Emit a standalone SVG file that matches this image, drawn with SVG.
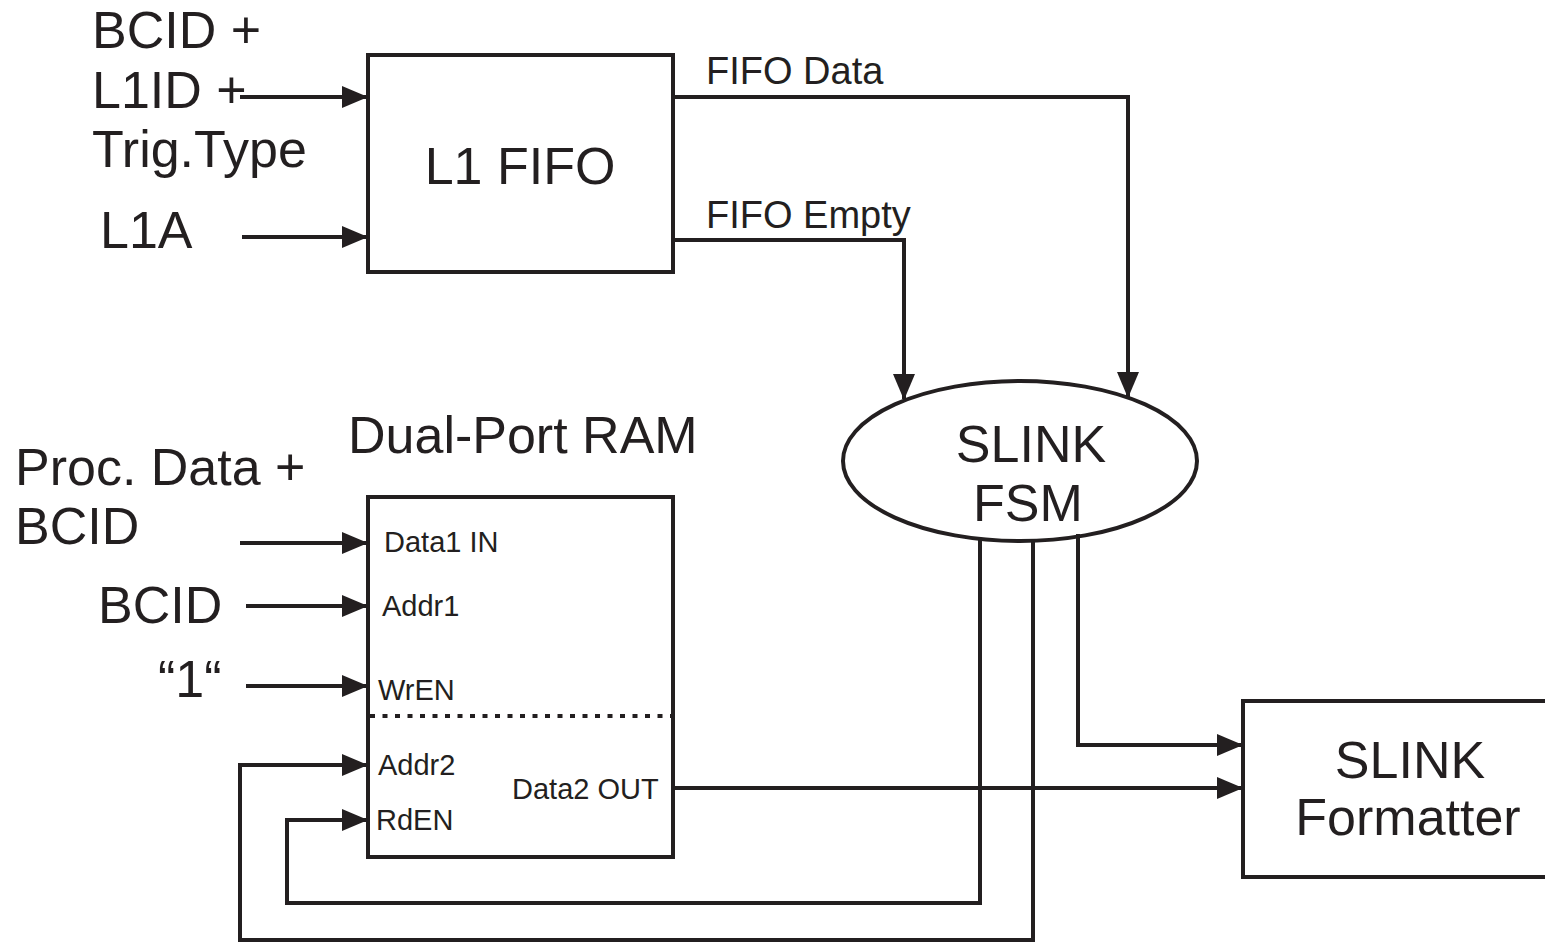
<svg xmlns="http://www.w3.org/2000/svg" width="1545" height="943" viewBox="0 0 1545 943">
<defs>
<style>
.box{fill:#fff;stroke:#231f20;stroke-width:4}
.ln{fill:none;stroke:#231f20;stroke-width:4;stroke-linejoin:miter}
.big{font-family:"Liberation Sans",Arial,sans-serif;font-size:52px;fill:#231f20}
.mid{font-family:"Liberation Sans",Arial,sans-serif;font-size:38px;fill:#231f20}
.sm{font-family:"Liberation Sans",Arial,sans-serif;font-size:29px;fill:#231f20}
</style>
<marker id="arr" markerUnits="userSpaceOnUse" markerWidth="26" markerHeight="22" refX="25" refY="11" orient="auto">
<path d="M0,0 L26,11 L0,22 z" fill="#231f20"/>
</marker>
</defs>
<rect width="1545" height="943" fill="#fff"/>

<g id="l1fifo">
<rect class="box" x="368" y="55" width="305" height="217"/>
<text class="big" x="520" y="184" text-anchor="middle">L1 FIFO</text>
</g>

<g id="dpram">
<text class="big" x="348" y="453">Dual-Port RAM</text>
<rect class="box" x="368" y="497" width="305" height="360"/>
<line x1="370" y1="716" x2="671" y2="716" stroke="#231f20" stroke-width="4" stroke-dasharray="5 7.5"/>
<text class="sm" x="384" y="552">Data1 IN</text>
<text class="sm" x="382" y="616">Addr1</text>
<text class="sm" x="378" y="700">WrEN</text>
<text class="sm" x="378" y="775">Addr2</text>
<text class="sm" x="376" y="830">RdEN</text>
<text class="sm" x="512" y="799">Data2 OUT</text>
</g>

<g id="fsm">
<ellipse class="box" cx="1020" cy="461" rx="177" ry="80"/>
<text class="big" x="1031" y="462" text-anchor="middle">SLINK</text>
<text class="big" x="1028" y="521" text-anchor="middle">FSM</text>
</g>

<g id="formatter">
<rect class="box" x="1243" y="701" width="320" height="176"/>
<text class="big" x="1410" y="778" text-anchor="middle">SLINK</text>
<text class="big" x="1408" y="835" text-anchor="middle">Formatter</text>
</g>

<g id="inputs">
<text class="big" x="92" y="48">BCID +</text>
<text class="big" x="92" y="108">L1ID +</text>
<text class="big" x="92" y="167">Trig.Type</text>
<text class="big" x="100" y="248">L1A</text>
<text class="big" x="15" y="485">Proc. Data +</text>
<text class="big" x="15" y="544">BCID</text>
<text class="big" x="98" y="623">BCID</text>
<text class="big" x="158" y="697">“1“</text>
<text class="mid" x="706" y="84">FIFO Data</text>
<text class="mid" x="706" y="228">FIFO Empty</text>
</g>

<g id="connectors">
<path class="ln" d="M240,97 H367" marker-end="url(#arr)"/>
<path class="ln" d="M242,237 H367" marker-end="url(#arr)"/>
<path class="ln" d="M673,97 H1128 V397" marker-end="url(#arr)"/>
<path class="ln" d="M673,240 H904 V399" marker-end="url(#arr)"/>
<path class="ln" d="M240,543 H367" marker-end="url(#arr)"/>
<path class="ln" d="M246,606 H367" marker-end="url(#arr)"/>
<path class="ln" d="M246,686 H367" marker-end="url(#arr)"/>
<path class="ln" d="M980,539 V903 H287 V820 H367" marker-end="url(#arr)"/>
<path class="ln" d="M1033,541 V940 H240 V765 H367" marker-end="url(#arr)"/>
<path class="ln" d="M1078,534 V745 H1242" marker-end="url(#arr)"/>
<path class="ln" d="M673,788 H1242" marker-end="url(#arr)"/>
</g>
</svg>
